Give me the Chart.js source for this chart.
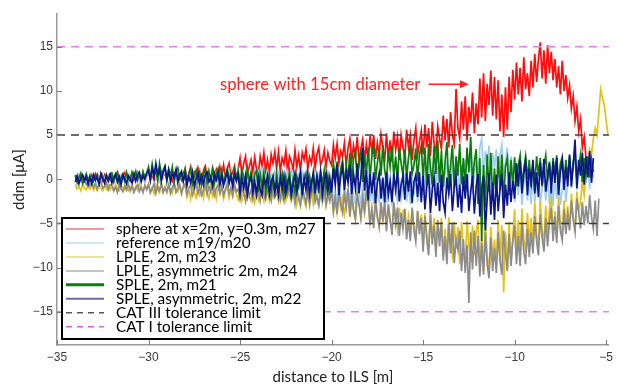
<!DOCTYPE html>
<html>
<head>
<meta charset="utf-8">
<script src="https://cdn.jsdelivr.net/npm/chart.js@4.4.1/dist/chart.umd.min.js"></script>
<style>
  html, body { margin: 0; padding: 0; background: #fff; }
  #ddmChart { display: block; }
</style>
</head>
<body>
<canvas id="ddmChart" width="618" height="385"></canvas>
<script>
// distance to ILS [m], sample positions shared by all runs (one row = 1 m)
const DIST = [
  -34.0,-33.9,-33.8,-33.7,-33.6,-33.5,-33.4,-33.3,-33.2,-33.1,
  -33.0,-32.9,-32.8,-32.7,-32.6,-32.5,-32.4,-32.3,-32.2,-32.1,
  -32.0,-31.9,-31.8,-31.7,-31.6,-31.5,-31.4,-31.3,-31.2,-31.1,
  -31.0,-30.9,-30.8,-30.7,-30.6,-30.5,-30.4,-30.3,-30.2,-30.1,
  -30.0,-29.9,-29.8,-29.7,-29.6,-29.5,-29.4,-29.3,-29.2,-29.1,
  -29.0,-28.9,-28.8,-28.7,-28.6,-28.5,-28.4,-28.3,-28.2,-28.1,
  -28.0,-27.9,-27.8,-27.7,-27.6,-27.5,-27.4,-27.3,-27.2,-27.1,
  -27.0,-26.9,-26.8,-26.7,-26.6,-26.5,-26.4,-26.3,-26.2,-26.1,
  -26.0,-25.9,-25.8,-25.7,-25.6,-25.5,-25.4,-25.3,-25.2,-25.1,
  -25.0,-24.9,-24.8,-24.7,-24.6,-24.5,-24.4,-24.3,-24.2,-24.1,
  -24.0,-23.9,-23.8,-23.7,-23.6,-23.5,-23.4,-23.3,-23.2,-23.1,
  -23.0,-22.9,-22.8,-22.7,-22.6,-22.5,-22.4,-22.3,-22.2,-22.1,
  -22.0,-21.9,-21.8,-21.7,-21.6,-21.5,-21.4,-21.3,-21.2,-21.1,
  -21.0,-20.9,-20.8,-20.7,-20.6,-20.5,-20.4,-20.3,-20.2,-20.1,
  -20.0,-19.9,-19.8,-19.7,-19.6,-19.5,-19.4,-19.3,-19.2,-19.1,
  -19.0,-18.9,-18.8,-18.7,-18.6,-18.5,-18.4,-18.3,-18.2,-18.1,
  -18.0,-17.9,-17.8,-17.7,-17.6,-17.5,-17.4,-17.3,-17.2,-17.1,
  -17.0,-16.9,-16.8,-16.7,-16.6,-16.5,-16.4,-16.3,-16.2,-16.1,
  -16.0,-15.9,-15.8,-15.7,-15.6,-15.5,-15.4,-15.3,-15.2,-15.1,
  -15.0,-14.9,-14.8,-14.7,-14.6,-14.5,-14.4,-14.3,-14.2,-14.1,
  -14.0,-13.9,-13.8,-13.7,-13.6,-13.5,-13.4,-13.3,-13.2,-13.1,
  -13.0,-12.9,-12.8,-12.7,-12.6,-12.5,-12.4,-12.3,-12.2,-12.1,
  -12.0,-11.9,-11.8,-11.7,-11.6,-11.5,-11.4,-11.3,-11.2,-11.1,
  -11.0,-10.9,-10.8,-10.7,-10.6,-10.5,-10.4,-10.3,-10.2,-10.1,
  -10.0,-9.9,-9.8,-9.7,-9.6,-9.5,-9.4,-9.3,-9.2,-9.1,
  -9.0,-8.9,-8.8,-8.7,-8.6,-8.5,-8.4,-8.3,-8.2,-8.1,
  -8.0,-7.9,-7.8,-7.7,-7.6,-7.5,-7.4,-7.3,-7.2,-7.1,
  -7.0,-6.9,-6.8,-6.7,-6.6,-6.5,-6.4,-6.3,-6.2,-6.1,
  -6.0,-5.9,-5.8,-5.7,-5.6,-5.5,-5.4,-5.3,-5.2,-5.1,
  -5.0,-4.9
];

const SPHERE_M27 = [
  0.4,-0.1,0.2,0.5,0.0,-0.2,0.4,0.2,-0.1,0.5,
  -0.1,0.3,0.6,0.0,0.2,-0.2,0.5,0.1,0.4,-0.1,
  0.6,0.0,0.3,0.8,-0.1,0.4,0.1,0.7,-0.2,0.5,
  0.2,0.7,-0.1,0.4,0.8,0.0,0.3,0.6,-0.2,0.4,
  0.8,0.1,0.5,-0.1,0.7,0.3,0.9,0.0,0.4,0.6,
  0.1,0.8,0.3,-0.2,0.6,1.0,0.2,0.5,-0.1,0.7,
  1.2,0.0,0.6,1.4,-0.1,0.8,0.3,1.3,0.5,-0.2,
  1.0,1.5,0.2,0.7,-0.1,1.3,0.6,1.1,0.0,1.4,
  0.4,1.6,0.1,1.1,1.8,0.3,0.8,1.5,0.0,1.2,
  2.4,0.6,1.8,2.6,0.4,1.4,2.2,0.8,2.5,1.1,
  0.7,2.6,1.5,3.0,0.9,2.2,0.6,2.8,1.8,3.1,
  1.2,3.1,0.9,2.4,1.7,3.2,0.8,2.6,2.0,1.1,
  3.3,1.4,2.7,1.0,3.0,2.2,3.4,1.2,2.5,1.8,
  3.5,1.3,2.8,3.6,1.6,2.2,3.3,1.4,3.0,2.1,
  1.6,3.9,2.4,4.0,1.8,3.2,2.6,4.1,1.5,3.5,
  4.6,2.1,3.8,2.5,4.8,1.9,3.4,4.5,2.2,3.9,
  2.0,4.9,3.2,5.0,2.3,4.1,2.8,5.1,3.6,2.1,
  5.2,2.4,4.4,2.0,5.4,3.3,4.8,2.2,5.0,3.6,
  2.4,5.6,3.6,5.0,2.2,4.4,5.8,2.8,4.2,5.5,
  2.8,6.2,3.6,5.8,2.6,6.5,4.0,3.1,6.0,4.6,
  3.4,7.2,4.4,6.8,3.6,7.6,5.0,4.0,10.2,5.8,
  4.6,8.8,5.6,9.4,4.4,8.2,6.4,9.8,5.2,8.6,
  6.2,11.4,7.0,12.0,6.6,10.8,8.4,12.3,7.2,11.6,
  6.8,11.2,5.4,9.6,4.8,10.4,5.6,11.6,7.6,12.4,
  9.0,13.2,9.6,12.6,8.8,13.8,10.2,12.0,9.4,13.4,
  10.4,14.2,11.0,13.6,15.5,11.4,14.6,10.8,15.2,12.0,
  14.4,11.2,13.6,10.4,12.8,9.6,13.4,10.0,11.8,9.2,
  10.6,8.0,9.4,6.6,8.2,5.4,6.8,3.6,4.8,2.4
];
const REFERENCE_M19_M20 = [
  0.4,-0.2,0.5,0.0,-0.3,0.3,0.6,-0.1,0.4,-0.3,
  0.2,0.5,-0.3,0.3,-0.1,0.6,0.0,-0.3,0.5,0.1,
  -0.2,0.4,0.6,-0.3,0.2,0.5,-0.2,0.3,-0.1,0.6,
  0.3,-0.3,0.5,0.0,0.6,-0.2,0.4,0.1,-0.3,0.5,
  0.9,-0.1,0.6,1.0,0.0,0.5,-0.2,0.8,0.3,1.0,
  -0.1,0.7,0.2,1.0,-0.2,0.6,0.9,0.1,0.5,-0.1,
  0.8,-0.5,0.4,1.0,-0.4,0.2,0.9,-0.6,0.5,0.0,
  -0.5,0.7,0.1,1.0,-0.3,0.5,-0.6,0.8,0.2,-0.4,
  0.9,-0.2,0.5,-0.6,1.0,0.1,-0.5,0.7,-0.2,0.9,
  -0.6,0.9,0.3,-0.7,1.1,-0.2,0.6,-0.6,1.0,0.0,
  0.8,-0.5,1.0,-0.4,0.2,1.1,-0.7,0.5,-0.3,0.9,
  -0.5,0.6,-0.7,1.0,0.1,-0.6,0.8,-0.2,1.1,-0.4,
  0.6,-1.0,0.3,-1.2,0.7,-0.5,0.8,-1.1,0.2,-0.8,
  -1.8,0.1,-1.2,0.3,-1.9,-0.5,0.2,-1.6,-0.3,-1.8,
  -0.6,-2.6,-1.2,-2.8,-0.5,-2.0,-2.7,-0.8,-2.2,-1.0,
  -2.6,-0.5,-1.8,-2.8,-0.6,-1.4,-2.7,-0.9,-2.4,-0.7,
  0.2,-2.6,-0.8,-2.8,0.3,-1.6,-2.5,0.0,-2.0,-0.4,
  -2.7,0.1,-1.4,-2.8,0.4,-1.0,-2.4,0.2,-2.2,-0.6,
  0.3,-2.5,-0.6,-2.8,0.2,-1.8,0.4,-2.6,-0.8,-2.0,
  1.8,-1.6,0.8,2.0,-1.8,0.4,2.2,-1.2,1.4,-1.7,
  2.0,-1.4,0.6,2.1,-1.8,-0.2,2.2,-1.5,1.0,1.8,
  -1.6,1.6,-0.8,2.2,-1.4,0.8,2.1,-1.7,0.6,2.0,
  0.4,3.6,4.6,0.2,3.2,1.4,3.8,0.0,3.0,1.2,
  3.4,0.2,2.8,3.9,0.4,2.0,3.6,0.1,2.6,0.6,
  -2.6,0.8,-1.8,1.0,-2.9,-0.4,0.9,-2.4,0.2,-2.8,
  0.8,-2.6,-0.6,1.0,-2.9,-1.0,0.6,-2.4,0.4,-2.8,
  -0.6,-3.0,0.8,-2.2,0.6,-2.9,-1.2,0.9,-2.6,-0.2,
  2.2,-1.0,1.4,2.4,-1.2,0.6,2.2,-0.8,1.8,-0.4,
  2.0,-1.1,1.6,0.2
];
const LPLE_M23 = [
  -0.6,-1.1,-0.8,-1.3,-0.6,-1.0,-1.2,-0.7,-1.1,-0.5,
  -1.2,-0.8,-1.3,-0.6,-1.0,-1.3,-0.7,-1.1,-0.6,-1.2,
  -0.8,-1.3,-0.6,-1.1,-1.3,-0.7,-1.0,-1.2,-0.6,-1.3,
  -1.0,-0.6,-1.3,-0.8,-1.2,-0.5,-1.1,-1.3,-0.7,-1.0,
  -0.5,-1.5,-0.9,-1.6,-0.6,-1.2,-1.5,-0.5,-1.3,-0.8,
  -1.5,-0.7,-1.2,-1.6,-0.5,-1.0,-1.4,-0.6,-1.6,-0.9,
  -0.8,-2.0,-1.2,-2.2,-0.7,-1.6,-2.1,-0.9,-1.8,-1.1,
  -2.1,-0.7,-1.5,-2.2,-0.9,-1.9,-1.0,-2.2,-0.8,-1.6,
  -1.0,-2.2,-1.4,-0.7,-2.1,-1.2,-2.0,-0.8,-1.7,-2.3,
  -0.8,-2.4,-1.3,-2.5,-0.9,-1.9,-2.4,-1.0,-2.6,-1.4,
  -2.3,-0.9,-1.8,-2.5,-0.7,-1.5,-2.4,-1.1,-2.0,-0.8,
  -1.7,-2.5,-0.8,-2.2,-1.2,-2.4,-0.9,-1.8,-2.5,-1.3,
  -1.2,-2.9,-1.8,-3.0,-1.3,-2.4,-3.1,-1.5,-2.7,-1.1,
  -2.8,-1.4,-2.2,-3.0,-1.2,-2.6,-1.6,-3.1,-2.0,-1.3,
  -1.7,-3.8,-2.4,-3.9,-1.8,-3.2,-2.2,-4.0,-2.8,-1.6,
  -4.3,-2.1,-3.6,-4.5,-2.0,-3.0,-4.4,-2.4,-3.9,-2.2,
  -2.4,-5.0,-3.3,-5.2,-2.5,-4.4,-5.3,-2.8,-4.6,-3.0,
  -5.6,-3.0,-4.8,-5.8,-2.9,-4.0,-5.7,-3.2,-5.0,-3.6,
  -3.4,-6.2,-4.3,-6.4,-3.3,-5.4,-6.3,-3.6,-5.6,-4.0,
  -7.6,-3.8,-6.2,-7.8,-3.7,-6.6,-4.4,-7.9,-4.8,-6.9,
  -4.4,-8.6,-5.6,-8.8,-4.3,-7.2,-8.6,-4.8,-7.8,-5.4,
  -9.6,-4.8,-8.0,-9.8,-4.7,-7.4,-9.4,-5.2,-8.6,-6.0,
  -4.6,-10.2,-6.4,-10.4,-4.8,-8.6,-10.5,-5.4,-9.2,-6.8,
  -10.0,-4.6,-9.2,-5.2,-12.8,-6.0,-10.2,-4.8,-9.4,-6.4,
  -3.4,-8.2,-4.6,-8.4,-3.3,-6.8,-8.3,-3.8,-7.4,-4.4,
  -7.4,-2.6,-6.2,-7.6,-2.5,-5.6,-7.3,-3.0,-6.6,-3.4,
  -2.1,-6.4,-3.6,-6.6,-2.0,-5.2,-6.4,-2.4,-5.6,-3.0,
  -5.6,-1.6,-4.4,-5.4,-1.4,-3.6,-2.6,-0.2,-1.8,0.8,
  1.8,3.4,2.8,4.6,5.8,5.0,7.6,10.2,9.2,8.4,
  6.6,5.0
];
const LPLE_ASYM_M24 = [
  0.3,0.1,-0.2,0.2,-0.4,-0.1,-0.6,-0.3,-0.7,-0.4,
  -0.9,-0.4,-1.1,-0.6,-0.3,-1.0,-0.8,-0.4,-1.2,-0.6,
  -0.7,-1.3,-0.9,-1.5,-0.6,-1.1,-1.4,-0.7,-1.2,-0.5,
  -1.3,-0.8,-1.5,-1.0,-0.6,-1.4,-0.9,-1.5,-0.7,-1.2,
  -0.6,-1.5,-1.1,-0.5,-1.6,-0.8,-1.3,-0.4,-1.5,-1.0,
  -1.4,-0.6,-1.6,-0.9,-0.5,-1.5,-1.1,-0.6,-1.6,-0.8,
  -0.5,-1.7,-1.0,-0.6,-1.8,-1.2,-0.4,-1.6,-0.9,-1.8,
  -1.3,-0.5,-1.7,-0.8,-1.4,-0.4,-1.8,-1.0,-0.6,-1.6,
  -0.7,-1.8,-1.1,-0.5,-1.6,-0.9,-1.8,-0.6,-1.4,-1.1,
  -2.2,-0.8,-1.6,-2.4,-0.7,-1.9,-1.2,-2.3,-0.9,-1.8,
  -1.1,-2.4,-0.8,-1.7,-2.3,-1.0,-1.5,-2.4,-0.7,-2.0,
  -1.6,-0.8,-2.3,-1.2,-2.4,-0.9,-1.8,-0.7,-2.2,-1.4,
  -2.8,-1.1,-2.2,-2.9,-1.0,-1.8,-2.7,-1.3,-2.9,-1.6,
  -1.0,-2.6,-1.9,-2.9,-1.2,-2.4,-0.9,-2.8,-1.7,-2.5,
  -1.2,-3.6,-2.0,-3.9,-1.4,-2.8,-3.8,-1.6,-3.2,-1.1,
  -4.2,-1.7,-3.4,-4.5,-1.6,-2.8,-4.4,-2.0,-3.6,-1.5,
  -2.2,-5.2,-3.4,-5.5,-2.1,-4.2,-5.4,-2.6,-4.8,-2.4,
  -5.9,-2.8,-4.6,-6.3,-2.6,-5.0,-3.2,-6.4,-3.8,-5.6,
  -3.4,-6.8,-4.6,-7.0,-3.2,-5.8,-7.1,-3.6,-6.2,-4.4,
  -8.2,-4.2,-6.8,-8.6,-4.0,-7.4,-5.2,-8.8,-4.6,-7.6,
  -4.8,-9.2,-6.4,-9.6,-5.0,-8.4,-4.9,-9.5,-6.8,-8.0,
  -5.8,-10.4,-6.8,-10.6,-7.4,-14.0,-6.0,-10.2,-5.8,-9.8,
  -6.4,-11.0,-7.2,-10.8,-6.0,-9.6,-11.2,-6.6,-10.4,-7.8,
  -10.6,-6.0,-9.2,-10.8,-5.8,-8.4,-10.4,-6.2,-9.8,-7.0,
  -5.2,-9.6,-6.4,-9.8,-5.0,-8.2,-9.6,-5.6,-8.8,-6.0,
  -8.4,-4.2,-7.0,-8.6,-4.0,-6.6,-8.2,-4.4,-7.6,-5.0,
  -3.2,-7.0,-4.2,-7.2,-3.0,-5.8,-6.9,-3.4,-6.2,-4.0,
  -5.8,-2.4,-4.6,-6.0,-2.2,-3.8,-5.6,-2.6,-5.2,-3.0,
  -5.0,-1.8,-4.2,-5.6,-2.4,-6.4,-2.2
];
const SPLE_M21 = [
  0.5,-0.4,0.2,0.7,-0.5,0.0,0.6,-0.3,0.4,-0.6,
  -0.2,0.6,0.1,-0.5,0.7,0.3,-0.4,0.5,-0.1,0.6,
  0.7,-0.3,0.4,0.8,-0.4,0.2,0.6,-0.2,0.8,0.0,
  -0.2,0.8,0.3,0.9,-0.1,0.5,0.0,0.9,0.2,0.7,
  1.4,0.0,1.7,0.4,1.2,-0.2,1.8,0.6,1.0,1.5,
  -0.2,1.2,0.4,1.4,-0.3,0.9,1.3,0.1,0.7,-0.2,
  1.1,-0.4,0.6,1.2,-0.5,0.3,1.0,-0.2,0.8,-0.6,
  0.5,1.2,-0.5,0.9,0.0,1.1,-0.4,0.6,1.2,-0.3,
  1.0,-0.5,0.4,1.2,-0.2,0.7,-0.6,1.1,0.2,0.9,
  -0.8,1.1,0.3,-0.9,1.2,-0.3,0.8,-1.0,0.6,1.0,
  -1.4,0.6,-0.9,0.8,-1.6,-0.2,0.5,-1.3,0.2,-1.5,
  0.7,-1.2,-0.3,0.6,-1.6,0.3,-1.0,0.8,-1.4,0.0,
  -1.5,0.4,-0.8,0.7,-1.6,-0.2,0.6,-1.2,0.3,-1.0,
  0.8,-1.4,0.2,-1.6,0.9,-0.6,1.0,-1.2,0.4,-1.5,
  -0.9,1.8,0.2,2.0,-1.0,1.2,2.1,-0.6,1.6,0.0,
  3.0,-0.2,2.4,3.2,0.0,1.6,3.3,-0.3,2.8,0.6,
  3.6,0.0,2.6,3.8,-0.1,1.8,3.4,0.4,3.9,1.0,
  -0.2,3.2,1.4,3.8,0.2,2.6,-0.1,3.6,1.8,0.4,
  3.4,0.1,2.4,3.9,0.6,1.6,3.5,-0.2,2.8,3.8,
  0.0,3.6,-0.8,4.0,1.4,-0.6,3.8,0.6,4.4,-0.4,
  3.2,-0.9,2.0,4.2,-0.5,1.6,3.9,-1.0,2.6,0.4,
  4.0,-0.6,2.4,-1.0,3.6,0.8,4.8,-0.4,2.0,3.4,
  -2.8,2.4,-7.0,1.6,-3.2,2.8,-1.4,3.0,-2.4,1.2,
  -2.0,2.6,-1.2,2.8,-2.4,1.4,2.4,-1.8,2.2,-0.8,
  2.5,-0.8,1.6,2.7,-0.6,1.2,2.6,0.0,2.2,-0.9,
  1.8,-0.7,2.6,0.4,2.4,-0.8,1.4,2.7,-0.2,2.0,
  -0.6,2.4,0.6,2.7,-0.8,1.8,2.5,-0.4,2.2,0.2,
  2.6,-0.2,2.0,2.8,0.0,1.4,2.8,-0.3,2.4,0.6,
  2.6,0.2,2.2,0.8
];
const SPLE_ASYM_M22 = [
  -0.3,0.4,-0.5,0.1,0.5,-0.2,0.3,-0.6,0.2,-0.4,
  0.5,-0.1,0.3,-0.5,0.6,0.0,-0.4,0.4,-0.2,0.5,
  -0.4,0.2,0.6,-0.3,0.3,-0.6,0.5,0.0,-0.5,0.4,
  0.1,-0.4,0.6,-0.2,0.5,0.8,-0.3,0.4,0.0,0.7,
  1.0,-0.1,1.3,0.3,1.8,0.6,1.2,-0.2,0.8,1.4,
  0.0,1.0,-0.3,0.7,0.2,1.1,-0.4,0.5,0.9,-0.2,
  0.6,-0.7,0.3,-0.4,0.8,-0.8,0.1,0.7,-0.5,0.4,
  -0.6,0.5,0.8,-0.3,0.2,-0.8,0.6,-0.1,0.7,-0.6,
  0.4,-0.7,0.1,0.8,-0.5,0.3,-0.8,0.6,-0.2,0.5,
  -1.6,0.2,-1.0,0.4,-1.8,-0.4,0.3,-1.5,-0.2,-1.7,
  0.2,-1.2,-1.8,0.1,-0.6,0.4,-1.7,-0.3,0.3,-1.4,
  -0.4,-1.8,0.3,-1.1,0.4,-1.6,-0.2,0.2,-1.8,-0.6,
  0.7,-1.4,-0.2,0.8,-1.8,0.2,-1.2,0.6,-1.7,-0.3,
  0.6,-1.6,0.4,-0.9,0.8,-1.8,-0.1,0.7,-1.3,0.2,
  -1.5,1.2,-0.6,1.7,-1.8,0.4,1.5,-1.2,0.8,-0.4,
  1.6,-1.7,0.6,-1.0,1.8,-1.6,0.2,3.6,-1.3,1.0,
  -2.4,0.6,-1.6,0.8,-2.7,-0.4,0.7,-2.2,0.2,-2.6,
  0.8,-1.8,-0.2,-2.6,0.6,-1.2,0.9,-2.5,-0.6,0.4,
  -2.3,0.7,-1.4,0.9,-2.7,-0.3,0.5,-2.0,0.8,-2.6,
  0.4,-3.4,-0.8,0.6,-3.8,-1.2,0.2,-3.0,-0.4,-3.6,
  0.5,-2.6,-3.8,0.2,-1.6,0.6,-3.6,-1.0,0.4,-3.2,
  -0.6,-3.8,0.3,-2.2,0.6,-3.6,-1.4,0.4,-3.9,-0.8,
  0.6,-4.2,-1.0,0.4,-5.8,-2.2,0.7,-4.0,-0.4,-4.6,
  0.5,-3.6,-1.2,0.6,-4.4,-0.6,-3.0,0.8,-2.6,-0.2,
  -2.2,1.8,-0.8,2.2,-1.6,0.6,2.0,-1.8,1.2,-0.4,
  2.2,-1.6,0.8,-2.0,1.9,-0.6,2.3,-1.4,0.2,1.8,
  -1.6,2.0,-0.4,2.4,-1.8,0.8,2.2,-1.2,1.4,-0.8,
  2.8,-0.8,1.6,4.5,-1.0,2.2,0.4,3.0,-0.6,2.6,
  0.2,3.2,-0.4,2.4
];

// tolerance limits [uA]
const CAT_III_LIMIT = 5;
const CAT_I_LIMIT = 15;

const X_MIN = -35;
const X_MAX = -4.85;

const toPoints = (values) => values.map((v, i) => ({ x: DIST[i], y: v }));
const limitLine = (v) => [{ x: X_MIN, y: v }, { x: X_MAX, y: v }];

const series = (label, values, color, order, legend) => ({
  label,
  data: toPoints(values),
  borderColor: color,
  borderWidth: 1.7,
  pointRadius: 0,
  tension: 0,
  order,
  legend,
});

const datasets = [
  series('sphere at x=2m, y=0.3m, m27', SPHERE_M27, '#ff0d0d', 6, { color: '#e8787f', width: 1.5 }),
  series('reference m19/m20', REFERENCE_M19_M20, '#9fcdee', 5, { color: '#bcdcf2', width: 1.5 }),
  series('LPLE, 2m, m23', LPLE_M23, '#e3c21c', 4, { color: '#e8dc78', width: 1.5 }),
  series('LPLE, asymmetric 2m, m24', LPLE_ASYM_M24, '#8c8c8c', 3, { color: '#c4c4c4', width: 2 }),
  series('SPLE, 2m, m21', SPLE_M21, '#0b7d0b', 2, { color: '#0b7d0b', width: 3 }),
  series('SPLE, asymmetric, 2m, m22', SPLE_ASYM_M22, '#0c168a', 1, { color: '#6c6ca6', width: 2 }),
];

const limits = [
  ['CAT III tolerance limit', CAT_III_LIMIT, '#3c3c3c', '#555555'],
  ['CAT I tolerance limit', CAT_I_LIMIT, '#ea7eea', '#e060e0'],
];
limits.forEach(([label, v, color, legendColor]) => {
  [v, -v].forEach((lv, j) => {
    datasets.push({
      label: j === 0 ? label : '',
      data: limitLine(lv),
      borderColor: color,
      borderWidth: 1.5,
      borderDash: [8, 6],
      pointRadius: 0,
      order: 0,
      legend: j === 0 ? { color: legendColor, width: 1.5, dash: [6, 5] } : null,
    });
  });
});

// MATLAB-like inward tick marks
const innerTicks = {
  id: 'innerTicks',
  afterDatasetsDraw(chart) {
    const { ctx, chartArea, scales } = chart;
    ctx.save();
    ctx.strokeStyle = '#7a7a7a';
    ctx.lineWidth = 1;
    scales.x.ticks.forEach((t) => {
      const px = Math.round(scales.x.getPixelForValue(t.value)) + 0.5;
      ctx.beginPath();
      ctx.moveTo(px, chartArea.bottom);
      ctx.lineTo(px, chartArea.bottom - 5);
      ctx.stroke();
    });
    scales.y.ticks.forEach((t) => {
      const py = Math.round(scales.y.getPixelForValue(t.value)) + 0.5;
      ctx.beginPath();
      ctx.moveTo(chartArea.left, py);
      ctx.lineTo(chartArea.left + 5, py);
      ctx.stroke();
    });
    ctx.restore();
  },
};

// red note with arrow pointing at the sphere run
const sphereNote = {
  id: 'sphereNote',
  afterDatasetsDraw(chart) {
    const { ctx, scales } = chart;
    const y = scales.y.getPixelForValue(10.75);
    const x0 = scales.x.getPixelForValue(-26.1);
    const a0 = scales.x.getPixelForValue(-14.7);
    const a1 = scales.x.getPixelForValue(-12.5);
    ctx.save();
    ctx.fillStyle = '#ff2020';
    ctx.strokeStyle = '#ff2020';
    ctx.font = '16.7px Lato';
    ctx.textBaseline = 'middle';
    ctx.fillText('sphere with 15cm diameter', x0, y);
    ctx.lineWidth = 1.5;
    ctx.beginPath();
    ctx.moveTo(a0, y);
    ctx.lineTo(a1 - 6, y);
    ctx.stroke();
    ctx.beginPath();
    ctx.moveTo(a1, y);
    ctx.lineTo(a1 - 9, y - 4);
    ctx.lineTo(a1 - 9, y + 4);
    ctx.closePath();
    ctx.fill();
    ctx.restore();
  },
};

// boxed legend inside the plot, lower left
const boxLegend = {
  id: 'boxLegend',
  afterDraw(chart) {
    const { ctx } = chart;
    const items = chart.data.datasets.filter((d) => d.legend);
    const box = { x: 62, y: 218, w: 262, h: 121 };
    ctx.save();
    ctx.fillStyle = '#ffffff';
    ctx.fillRect(box.x, box.y, box.w, box.h);
    ctx.strokeStyle = '#000000';
    ctx.lineWidth = 2;
    ctx.strokeRect(box.x, box.y, box.w, box.h);
    ctx.font = '15.3px Lato';
    ctx.textBaseline = 'middle';
    items.forEach((d, i) => {
      const y = box.y + 11 + i * 13.96;
      ctx.strokeStyle = d.legend.color;
      ctx.lineWidth = d.legend.width;
      ctx.setLineDash(d.legend.dash || []);
      ctx.beginPath();
      ctx.moveTo(box.x + 4, y);
      ctx.lineTo(box.x + 42, y);
      ctx.stroke();
      ctx.setLineDash([]);
      ctx.fillStyle = '#000000';
      ctx.fillText(d.label, box.x + 54, y);
    });
    ctx.restore();
  },
};

const minusSign = (v) => String(v).replace('-', '\u2212');

new Chart(document.getElementById('ddmChart'), {
  type: 'line',
  data: { datasets },
  plugins: [innerTicks, sphereNote, boxLegend],
  options: {
    responsive: false,
    animation: false,
    devicePixelRatio: 1,
    layout: { autoPadding: false, padding: { top: 14, left: 0, right: 0, bottom: 0 } },
    plugins: { legend: { display: false }, tooltip: { enabled: false } },
    scales: {
      x: {
        type: 'linear',
        min: X_MIN,
        max: X_MAX,
        afterFit: (scale) => { scale.height = 40; },
        ticks: {
          stepSize: 5,
          includeBounds: false,
          padding: 5,
          color: '#3a3a3a',
          font: { family: 'Liberation Sans', size: 12 },
          callback: minusSign,
        },
        grid: { display: false, drawTicks: false },
        border: { color: '#9a9a9a', width: 1.5 },
        title: {
          display: true,
          text: 'distance to ILS [m]',
          color: '#222222',
          font: { family: 'Lato', size: 15, lineHeight: 1 },
          padding: 0,
        },
      },
      y: {
        min: -18.75,
        max: 18.7,
        afterFit: (scale) => { scale.width = 57; },
        ticks: {
          stepSize: 5,
          includeBounds: false,
          padding: 4,
          color: '#3a3a3a',
          font: { family: 'Liberation Sans', size: 12 },
          callback: minusSign,
        },
        grid: { display: false, drawTicks: false },
        border: { color: '#9a9a9a', width: 1.5 },
        title: {
          display: true,
          text: 'ddm [\u03bcA]',
          color: '#222222',
          font: { family: 'Lato', size: 15 },
          padding: { top: 10, bottom: 0 },
        },
      },
    },
  },
});
</script>
</body>
</html>
